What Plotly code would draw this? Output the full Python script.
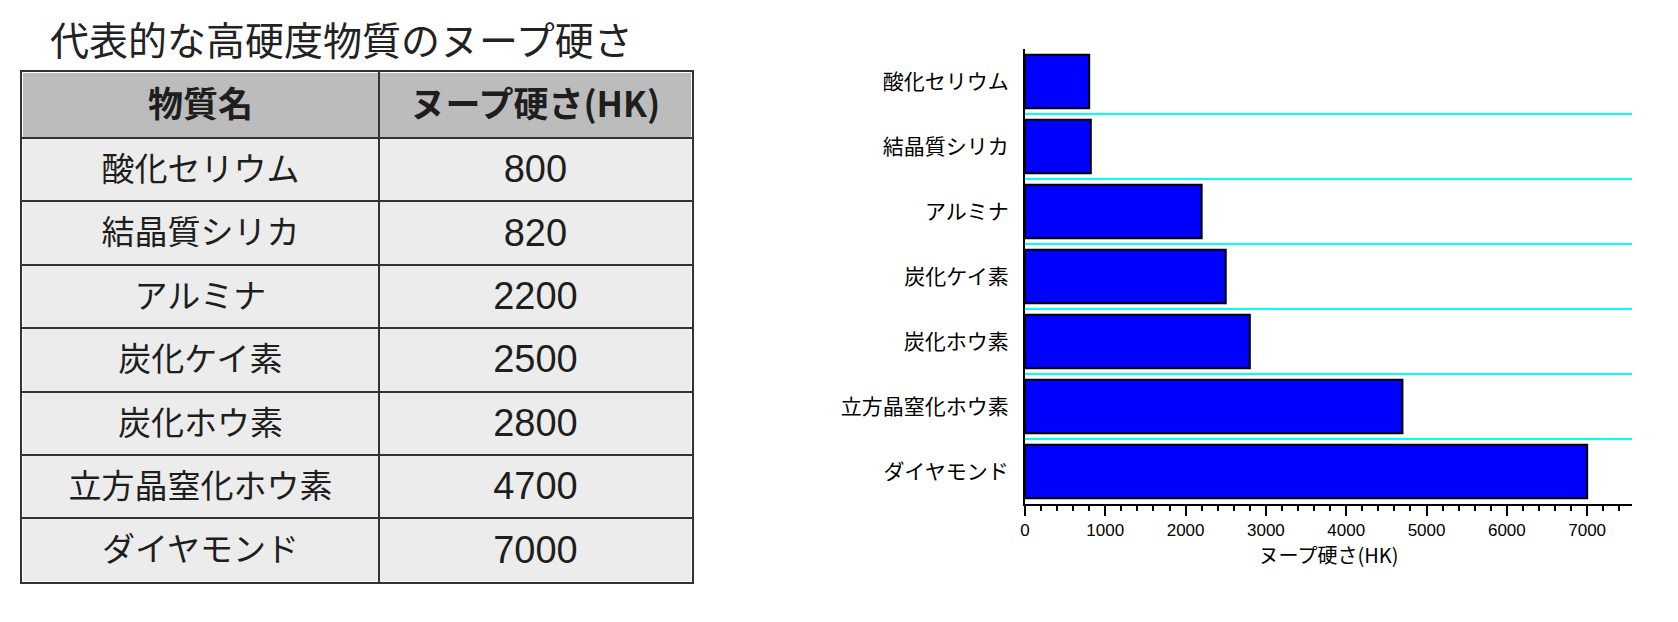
import plotly.graph_objects as go

# ---- data ----
title_text = "代表的な高硬度物質のヌープ硬さ"
header_labels = ["物質名", "ヌープ硬さ(HK)"]
materials = ["酸化セリウム", "結晶質シリカ", "アルミナ", "炭化ケイ素",
             "炭化ホウ素", "立方晶窒化ホウ素", "ダイヤモンド"]
hardness = [800, 820, 2200, 2500, 2800, 4700, 7000]
x_title = "ヌープ硬さ(HK)"

# ---- layout constants (pixels) ----
W, H = 1678, 622
JP = "Noto Sans CJK JP"
COL_W = [358, 314]          # table column widths
HEAD_H, ROW_H = 66, 63.4    # table row heights
TBL_X0, TBL_Y0 = 17, 72     # table top-left corner on the page
TEXT_DY = 3                 # optical nudge of cell text downwards

n_rows = len(materials)
col_edges = [0]
for w in COL_W:
    col_edges.append(col_edges[-1] + w)
row_edges = [0, HEAD_H]
for _ in range(n_rows):
    row_edges.append(row_edges[-1] + ROW_H)
tbl_w, tbl_h = col_edges[-1], row_edges[-1]
col_mid = [(a + b) / 2 for a, b in zip(col_edges[:-1], col_edges[1:])]
row_mid = [(a + b) / 2 + TEXT_DY for a, b in zip(row_edges[:-1], row_edges[1:])]

fig = go.Figure()

# ---- table (left): cell fills as a heatmap, borders as axis grid/lines ----
role = [[1] * len(COL_W)] + [[0] * len(COL_W) for _ in range(n_rows)]
fig.add_trace(go.Heatmap(
    z=role, x=col_edges, y=row_edges,
    colorscale=[[0, "#ececec"], [1, "#bcbcbc"]],
    zmin=0, zmax=1, showscale=False, xgap=2, ygap=2,
    hoverinfo="skip",
    xaxis="x2", yaxis="y2",
))
# header text
fig.add_trace(go.Scatter(
    x=col_mid, y=[row_mid[0]] * len(header_labels),
    text=header_labels, mode="text", textposition="middle center",
    textfont=dict(family=JP, size=35, color="#1e1e1e", weight="bold"),
    hoverinfo="skip", showlegend=False,
    xaxis="x2", yaxis="y2",
))
# material names
fig.add_trace(go.Scatter(
    x=[col_mid[0]] * n_rows, y=row_mid[1:],
    text=materials, mode="text", textposition="middle center",
    textfont=dict(family=JP, size=33, color="#1e1e1e"),
    hoverinfo="skip", showlegend=False,
    xaxis="x2", yaxis="y2",
))
# hardness values
fig.add_trace(go.Scatter(
    x=[col_mid[1]] * n_rows, y=row_mid[1:],
    text=[str(v) for v in hardness], mode="text", textposition="middle center",
    textfont=dict(family="Liberation Sans", size=38, color="#1e1e1e"),
    hoverinfo="skip", showlegend=False,
    xaxis="x2", yaxis="y2",
))

# ---- bar chart (right) ----
fig.add_trace(go.Bar(
    y=materials,
    x=hardness,
    orientation="h",
    marker=dict(color="#0000ff", line=dict(color="#000000", width=2)),
    width=0.82,
    showlegend=False,
    hoverinfo="x+y",
))

fig.update_layout(
    width=W, height=H,
    margin=dict(l=0, r=0, t=0, b=0),
    paper_bgcolor="white",
    plot_bgcolor="white",
    showlegend=False,
    annotations=[dict(
        text=title_text, xref="paper", yref="paper",
        x=43 / W, y=1 - 38 / H, xanchor="left", yanchor="middle",
        showarrow=False,
        font=dict(family=JP, size=39, color="#222222"),
    )],
    xaxis=dict(
        domain=[1023 / W, 1632 / W],
        range=[0, 7560],
        tick0=0, dtick=1000,
        ticks="outside", ticklen=10, tickwidth=2, tickcolor="black",
        minor=dict(dtick=200, ticks="outside", ticklen=5, tickwidth=2, tickcolor="black", showgrid=False),
        showline=True, linecolor="black", linewidth=2,
        showgrid=False, zeroline=False,
        tickfont=dict(family="Liberation Sans", size=17, color="black"),
        title=dict(text=x_title, font=dict(family=JP, size=20, color="black"), standoff=6),
        fixedrange=True,
    ),
    yaxis=dict(
        domain=[1 - 504 / H, 1 - 49 / H],
        autorange="reversed",
        type="category",
        tickson="boundaries",
        ticks="", ticklabelstandoff=10,
        showline=True, linecolor="black", linewidth=2,
        showgrid=True, gridcolor="#00ffff", gridwidth=2,
        zeroline=False,
        tickfont=dict(family=JP, size=21, color="black"),
        fixedrange=True,
    ),
    xaxis2=dict(
        domain=[TBL_X0 / W, (TBL_X0 + tbl_w) / W],
        anchor="y2", range=[0, tbl_w],
        tickvals=col_edges[1:-1], showticklabels=False, ticks="",
        showgrid=True, gridcolor="#333333", gridwidth=2,
        showline=True, mirror=True, linecolor="#333333", linewidth=2,
        zeroline=False, fixedrange=True,
    ),
    yaxis2=dict(
        domain=[1 - (TBL_Y0 + tbl_h) / H, 1 - TBL_Y0 / H],
        anchor="x2", range=[tbl_h, 0],
        tickvals=row_edges[1:-1], showticklabels=False, ticks="",
        showgrid=True, gridcolor="#333333", gridwidth=2,
        showline=True, mirror=True, linecolor="#333333", linewidth=2,
        zeroline=False, fixedrange=True,
    ),
    bargap=0.18,
)

fig.write_html("out.html")
